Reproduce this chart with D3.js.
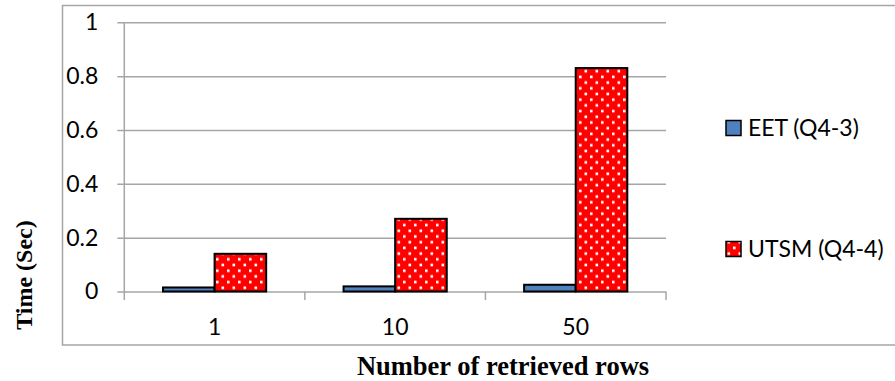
<!DOCTYPE html>
<html>
<head>
<meta charset="utf-8">
<script src="https://cdn.jsdelivr.net/npm/d3@7"></script>
<style>
  html, body { margin: 0; padding: 0; background: #fff; }
  svg { display: block; }
</style>
</head>
<body>
<svg id="chart" width="895" height="381"></svg>
<script>
const categories = ["1", "10", "50"];
const seriesNames = ["EET (Q4-3)", "UTSM (Q4-4)"];
const eetValues = [0.015, 0.019, 0.025];
const utsmValues = [0.14, 0.27, 0.83];
const yTicks = [0, 0.2, 0.4, 0.6, 0.8, 1];
const xTitle = "Number of retrieved rows";
const yTitle = "Time (Sec)";

const svg = d3.select("#chart");
const plot = { left: 124.3, right: 666, top: 22.3, bottom: 291.5 };
const gridColor = "#a6a6a6";
const tickFont = "Lato, 'Noto Sans', sans-serif";
const tickSize = 23;
const titleFont = "'Liberation Serif', 'Times New Roman', serif";

// outer frame
svg.append("rect")
  .attr("x", 62.5).attr("y", 5.5)
  .attr("width", 840).attr("height", 339.5)
  .attr("fill", "none").attr("stroke", gridColor).attr("stroke-width", 1.5);

const y = d3.scaleLinear().domain([0, 1]).range([plot.bottom, plot.top]);
const x = d3.scaleBand().domain(categories).range([plot.left, plot.right]).padding(0);

// patterns
const defs = svg.append("defs");
const pat = defs.append("pattern")
  .attr("id", "dots").attr("patternUnits", "userSpaceOnUse")
  .attr("width", 11).attr("height", 11.4);
pat.append("rect").attr("width", 11).attr("height", 11.4).attr("fill", "#ff0000");
pat.append("rect").attr("x", 1.5).attr("y", 1.5).attr("width", 2.6).attr("height", 2.6).attr("fill", "#fff");
pat.append("rect").attr("x", 7).attr("y", 7.2).attr("width", 2.6).attr("height", 2.6).attr("fill", "#fff");

// gridlines + y axis
const yAxis = d3.axisLeft(y).tickValues(yTicks).tickFormat(d => String(d))
  .tickSize(7).tickPadding(19);
const gy = svg.append("g").attr("transform", `translate(${plot.left},0)`).call(yAxis);
gy.select(".domain").remove();
gy.selectAll(".tick line").attr("stroke", gridColor).attr("stroke-width", 1.5)
  .attr("x2", plot.right - plot.left).attr("x1", -7);
gy.selectAll(".tick text").attr("font-family", tickFont).attr("font-size", tickSize)
  .attr("fill", "#000");

// y axis line
svg.append("line")
  .attr("x1", plot.left).attr("x2", plot.left)
  .attr("y1", plot.top).attr("y2", plot.bottom + 8.5)
  .attr("stroke", gridColor).attr("stroke-width", 1.5);

// category boundary ticks
const bounds = categories.map(c => x(c)).concat([x(categories[categories.length - 1]) + x.bandwidth()]);
svg.append("g").selectAll("line").data(bounds.slice(1)).join("line")
  .attr("x1", d => d).attr("x2", d => d)
  .attr("y1", plot.bottom).attr("y2", plot.bottom + 8.5)
  .attr("stroke", gridColor).attr("stroke-width", 1.5);

// x axis labels
const xAxis = d3.axisBottom(x).tickSize(0).tickPadding(27);
const gx = svg.append("g").attr("transform", `translate(0,${plot.bottom})`).call(xAxis);
gx.select(".domain").remove();
gx.selectAll(".tick text").attr("font-family", tickFont).attr("font-size", tickSize).attr("fill", "#000");

// bars
const bw = x.bandwidth() / 3.5;
const barG = svg.append("g");
barG.selectAll("rect.eet").data(categories).join("rect").attr("class", "eet")
  .attr("x", c => x(c) + x.bandwidth() / 2 - bw)
  .attr("y", (c, i) => y(eetValues[i]))
  .attr("width", bw)
  .attr("height", (c, i) => y(0) - y(eetValues[i]))
  .attr("fill", "#4f81bd").attr("stroke", "#000").attr("stroke-width", 2);
barG.selectAll("rect.utsm").data(categories).join("rect").attr("class", "utsm")
  .attr("x", c => x(c) + x.bandwidth() / 2)
  .attr("y", (c, i) => y(utsmValues[i]))
  .attr("width", bw)
  .attr("height", (c, i) => y(0) - y(utsmValues[i]))
  .attr("fill", "url(#dots)").attr("stroke", "#000").attr("stroke-width", 2);

// legend
const legendY = [128, 249];
const legend = svg.append("g");
seriesNames.forEach((name, i) => {
  legend.append("rect")
    .attr("x", 726).attr("y", legendY[i] - 7.5)
    .attr("width", 15).attr("height", 15)
    .attr("fill", i === 0 ? "#4f81bd" : "url(#dots)")
    .attr("stroke", "#000").attr("stroke-width", 1.5);
  legend.append("text")
    .attr("x", 748).attr("y", legendY[i]).attr("dy", "0.36em")
    .attr("font-family", tickFont).attr("font-size", tickSize).attr("fill", "#000")
    .text(name);
});

// titles
svg.append("text")
  .attr("x", 503).attr("y", 375).attr("text-anchor", "middle")
  .attr("font-family", titleFont).attr("font-weight", "bold").attr("font-size", 26.5)
  .attr("fill", "#000").text(xTitle);
svg.append("text")
  .attr("transform", "translate(32,275) rotate(-90)")
  .attr("text-anchor", "middle")
  .attr("font-family", titleFont).attr("font-weight", "bold").attr("font-size", 24)
  .attr("fill", "#000").text(yTitle);
</script>
</body>
</html>
